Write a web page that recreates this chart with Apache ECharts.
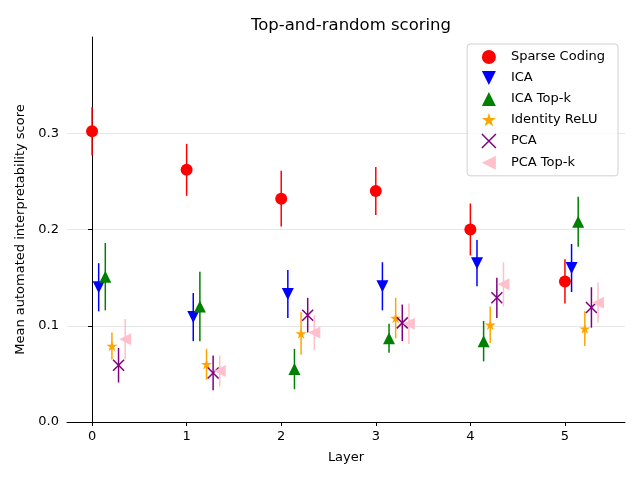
<!DOCTYPE html>
<html>
<head>
<meta charset="utf-8">
<script src="https://cdn.jsdelivr.net/npm/echarts@6/dist/echarts.min.js"></script>
<style>
  html, body { margin: 0; padding: 0; background: #fff; }
  #chart { width: 640px; height: 480px; }
</style>
</head>
<body>
<div id="chart"></div>
<script>
// data
var layers = [0, 1, 2, 3, 4, 5];
var methodNames = ['Sparse Coding', 'ICA', 'ICA Top-k', 'Identity ReLU', 'PCA', 'PCA Top-k'];

var sparseCoding    = [0.302, 0.262, 0.232, 0.240, 0.200, 0.146];
var sparseCodingErr = [0.025, 0.027, 0.029, 0.025, 0.027, 0.023];
var ica             = [0.140, 0.109, 0.133, 0.141, 0.165, 0.160];
var icaErr          = [0.025, 0.025, 0.025, 0.025, 0.024, 0.025];
var icaTopK         = [0.151, 0.120, 0.055, 0.087, 0.084, 0.208];
var icaTopKErr      = [0.035, 0.036, 0.021, 0.015, 0.021, 0.026];
var identityRelu    = [0.079, 0.060, 0.092, 0.108, 0.101, 0.097];
var identityReluErr = [0.014, 0.016, 0.022, 0.021, 0.019, 0.018];
var pca             = [0.059, 0.051, 0.111, 0.103, 0.129, 0.119];
var pcaErr          = [0.018, 0.018, 0.018, 0.019, 0.021, 0.021];
var pcaTopK         = [0.086, 0.053, 0.093, 0.102, 0.143, 0.124];
var pcaTopKErr      = [0.021, 0.016, 0.018, 0.021, 0.023, 0.021];

var yTicks = [0, 0.1, 0.2, 0.3];

// markers (shapes only)
var STAR = 'path://M100,0L122.45,69.1L195.1,69.1L136.3,111.8L158.8,180.9L100,138.2L41.2,180.9L63.7,111.8L4.9,69.1L77.55,69.1Z';
var TRI_DOWN = 'path://M0,0L10,0L5,10Z';
var TRI_UP = 'path://M5,0L10,10L0,10Z';
var TRI_LEFT = 'path://M0,5L10,0L10,10Z';
var CROSS = 'path://M0,0L10,10M10,0L0,10';

var styles = [
  { color: 'red',    symbol: 'circle', size: 12 },
  { color: 'blue',   symbol: TRI_DOWN, size: 12 },
  { color: 'green',  symbol: TRI_UP,   size: 12 },
  { color: 'orange', symbol: STAR,     size: 11 },
  { color: 'purple', symbol: CROSS,    size: 11, stroke: true },
  { color: 'pink',   symbol: TRI_LEFT, size: 12 }
];

var values = [sparseCoding, ica, icaTopK, identityRelu, pca, pcaTopK];
var errors = [sparseCodingErr, icaErr, icaTopKErr, identityReluErr, pcaErr, pcaTopKErr];
var step = 0.07; // horizontal dodge between methods

var chart = echarts.init(document.getElementById('chart'));

var series = [];
methodNames.forEach(function (name, i) {
  var st = styles[i];
  var pts = layers.map(function (l, j) { return [l + i * step, values[i][j]]; });
  var bars = layers.map(function (l, j) {
    return [l + i * step, values[i][j] - errors[i][j], values[i][j] + errors[i][j]];
  });
  series.push({
    type: 'custom',
    name: name,
    z: 2 + i * 2,
    silent: true,
    data: bars,
    renderItem: function (params, api) {
      var a = api.coord([api.value(0), api.value(1)]);
      var b = api.coord([api.value(0), api.value(2)]);
      return {
        type: 'line',
        shape: { x1: a[0], y1: a[1], x2: b[0], y2: b[1] },
        style: { stroke: st.color, lineWidth: 1.5 }
      };
    }
  });
  series.push({
    type: 'scatter',
    name: name,
    z: 3 + i * 2,
    symbol: st.symbol,
    symbolSize: st.size,
    symbolKeepAspect: true,
    itemStyle: st.stroke
      ? { color: 'rgba(0,0,0,0)', borderColor: st.color, borderWidth: 1.5, opacity: 1 }
      : { color: st.color, opacity: 1 },
    data: pts
  });
});

var option = {
  animation: false,
  textStyle: { fontFamily: 'DejaVu Sans' },
  title: {
    text: 'Top-and-random scoring',
    left: 346,
    textAlign: 'center',
    top: 12,
    textStyle: { fontSize: 16.5, fontWeight: 'normal', color: '#000', fontFamily: 'DejaVu Sans' }
  },
  legend: {
    orient: 'vertical',
    right: 22,
    top: 44,
    padding: [6, 13, 6, 14],
    itemGap: 7,
    itemWidth: 14,
    itemHeight: 14,
    borderColor: '#d0d0d0',
    borderWidth: 1,
    borderRadius: 3,
    backgroundColor: 'rgba(255,255,255,0.8)',
    textStyle: { fontSize: 13, color: '#000', fontFamily: 'DejaVu Sans', padding: [0, 0, 0, 10] },
    data: methodNames.map(function (n, i) {
      var st = styles[i];
      return {
        name: n,
        icon: st.symbol,
        itemStyle: st.stroke
          ? { color: 'rgba(0,0,0,0)', borderColor: st.color, borderWidth: 1.5 }
          : { color: st.color, borderWidth: 0 }
      };
    })
  },
  grid: { left: 67, right: 15, top: 37, bottom: 58 },
  xAxis: {
    type: 'value',
    min: -0.265,
    max: 5.635,
    name: 'Layer',
    nameLocation: 'middle',
    nameGap: 29,
    nameTextStyle: { fontSize: 13, color: '#000' },
    axisLine: { onZero: false, lineStyle: { color: '#000', width: 1 } },
    axisTick: { customValues: layers, length: 4, lineStyle: { color: '#000' } },
    axisLabel: { customValues: layers, fontSize: 13, color: '#000', margin: 8 },
    splitLine: { show: false }
  },
  yAxis: {
    type: 'value',
    min: 0,
    max: 0.4,
    interval: 0.1,
    name: 'Mean automated interpretability score',
    nameLocation: 'middle',
    nameGap: 40,
    nameTextStyle: { fontSize: 13, color: '#000' },
    axisLine: { show: true, lineStyle: { color: '#000', width: 1 } },
    axisTick: { show: true, customValues: yTicks, length: 4, lineStyle: { color: '#000' } },
    axisLabel: {
      customValues: yTicks,
      fontSize: 13,
      color: '#000',
      margin: 8,
      formatter: function (v) { return v.toFixed(1); }
    },
    splitLine: {
      show: true,
      lineStyle: { color: ['#e6e6e6', '#e6e6e6', '#e6e6e6', '#e6e6e6', 'rgba(0,0,0,0)'], width: 1 }
    }
  },
  series: series
};

chart.setOption(option);
</script>
</body>
</html>
